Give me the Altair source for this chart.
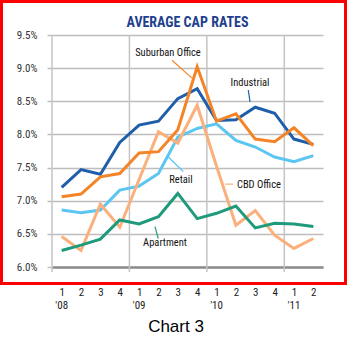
import altair as alt
import pandas as pd

# ---- data ----
quarters = ["1", "2", "3", "4", "1", "2", "3", "4", "1", "2", "3", "4", "1", "2"]
years = ["'08", "'09", "'10", "'11"]
year_idx = [0, 4, 8, 12]

industrial = [7.20, 7.47, 7.40, 7.88, 8.14, 8.20, 8.54, 8.69, 8.21, 8.22, 8.41, 8.32, 7.93, 7.85]
suburban = [7.06, 7.10, 7.36, 7.41, 7.72, 7.74, 8.07, 9.02, 8.20, 8.31, 7.93, 7.89, 8.10, 7.83]
retail = [6.86, 6.82, 6.86, 7.16, 7.22, 7.41, 7.96, 8.09, 8.16, 7.91, 7.81, 7.66, 7.59, 7.68]
cbd = [6.46, 6.25, 6.95, 6.60, 7.32, 8.04, 7.87, 8.44, 7.52, 6.63, 6.85, 6.48, 6.28, 6.43]
apartment = [6.25, 6.33, 6.42, 6.71, 6.65, 6.76, 7.11, 6.73, 6.81, 6.92, 6.59, 6.66, 6.65, 6.61]

series_names = ["Retail", "CBD Office", "Apartment", "Industrial", "Suburban Office"]
series_vals = [retail, cbd, apartment, industrial, suburban]
series_colors = ["#5cc6f2", "#fbb07c", "#1f9a7c", "#1f5ea8", "#f58426"]

y_ticks = [6.0, 6.5, 7.0, 7.5, 8.0, 8.5, 9.0, 9.5]
year_bounds = [-0.5, 3.5, 7.5, 11.5]

# annotation labels (data coordinates)
ann_text = ["Suburban Office", "Industrial", "Retail", "CBD Office", "Apartment"]
ann_x = [5.49, 9.73, 6.16, 10.19, 5.34]
ann_y = [9.23, 8.78, 7.31, 7.24, 6.36]
lead_series = ["Suburban Office", "Industrial", "Retail", "CBD Office", "Apartment"]
lead_x1 = [5.70, 9.64, 5.51, 8.44, 4.82]
lead_x2 = [6.73, 9.73, 6.28, 8.85, 4.99]
lead_y1 = [9.12, 8.67, 7.66, 7.25, 6.61]
lead_y2 = [8.85, 8.49, 7.44, 7.25, 6.43]

# ---- tables ----
rows = []
for name, vals in zip(series_names, series_vals):
    for i, v in enumerate(vals):
        rows.append({"series": name, "idx": i, "value": v})
df = pd.DataFrame(rows)
ann_df = pd.DataFrame({"label": ann_text, "x": ann_x, "y": ann_y})
lead_df = pd.DataFrame({"series": lead_series, "x": lead_x1, "x2": lead_x2,
                        "y": lead_y1, "y2": lead_y2})
year_df = pd.DataFrame({"idx": year_idx, "label": years})
bound_df = pd.DataFrame({"b": year_bounds})

W, H = 271, 232
NARROW = "Liberation Sans Narrow, Arial Narrow, Roboto Condensed, DejaVu Sans Condensed, sans-serif"

xs = alt.Scale(domain=[-0.5, 13.5], nice=False, zero=False)
ys = alt.Scale(domain=[6.0, 9.5], nice=False, zero=False)
cs = alt.Scale(domain=series_names, range=series_colors)

q_expr = "[" + ",".join("'%s'" % q for q in quarters) + "][datum.value]"

x_axis = alt.Axis(values=list(range(14)), labelExpr=q_expr, grid=False,
                  ticks=False, domainColor="#8c8c8c", domainWidth=2.5,
                  labelPadding=19, labelFontSize=11, labelColor="#222",
                  labelFont=NARROW, title=None)
y_axis = alt.Axis(values=y_ticks, labelExpr="format(datum.value, '.1f') + '%'",
                  grid=True, gridColor="#bdbdbd", gridWidth=1.5,
                  tickColor="#bdbdbd", tickSize=5, tickWidth=1.5,
                  domain=False, labelPadding=10, labelFontSize=11,
                  labelColor="#333", labelFont=NARROW, title=None)

vrules = alt.Chart(bound_df).mark_rule(color="#c4c4c4", strokeWidth=1.5).encode(
    x=alt.X("b:Q", scale=xs, axis=x_axis),
    y=alt.value(0),
    y2=alt.value(H + 5),
)

lines = alt.Chart(df).mark_line(strokeWidth=3).encode(
    x=alt.X("idx:Q", scale=xs, axis=x_axis),
    y=alt.Y("value:Q", scale=ys, axis=y_axis),
    color=alt.Color("series:N", scale=cs, legend=None),
    detail="series:N",
)

leaders = alt.Chart(lead_df).mark_rule(strokeWidth=1.2).encode(
    x=alt.X("x:Q", scale=xs, axis=x_axis),
    x2="x2:Q",
    y=alt.Y("y:Q", scale=ys, axis=y_axis),
    y2="y2:Q",
    color=alt.Color("series:N", scale=cs, legend=None),
)

ann = alt.Chart(ann_df).mark_text(fontSize=10.5, font=NARROW, color="#111").encode(
    x=alt.X("x:Q", scale=xs, axis=x_axis),
    y=alt.Y("y:Q", scale=ys, axis=y_axis),
    text="label:N",
)

yr = alt.Chart(year_df).mark_text(fontSize=11, font=NARROW, color="#222").encode(
    x=alt.X("idx:Q", scale=xs, axis=x_axis),
    y=alt.value(H + 39),
    text="label:N",
)

title = alt.Chart(pd.DataFrame({"t": ["AVERAGE CAP RATES"]})).mark_text(
    fontSize=14, font=NARROW, fontWeight="bold", color="#1f3f8f"
).encode(x=alt.value(W / 2), y=alt.value(-12), text="t:N")

caption = alt.Chart(pd.DataFrame({"t": ["Chart 3"]})).mark_text(
    fontSize=17, font="Liberation Sans, Arial, sans-serif", color="#000"
).encode(x=alt.value(124), y=alt.value(H + 60), text="t:N")

border = alt.Chart(pd.DataFrame({"k": [0]})).mark_rect(
    fill=None, stroke="#ff0000", strokeWidth=3
).encode(x=alt.value(-50.5), x2=alt.value(293.5), y=alt.value(-33.5), y2=alt.value(H + 16.5))

chart = alt.layer(vrules, lines, leaders, ann, yr, title, caption, border).properties(
    width=W, height=H,
    autosize=alt.AutoSizeParams(type="none"),
    padding={"left": 52, "top": 35, "right": 25, "bottom": 73},
).configure_view(stroke=None)

chart.save("out.html", embed_options={"renderer": "svg", "actions": False})
